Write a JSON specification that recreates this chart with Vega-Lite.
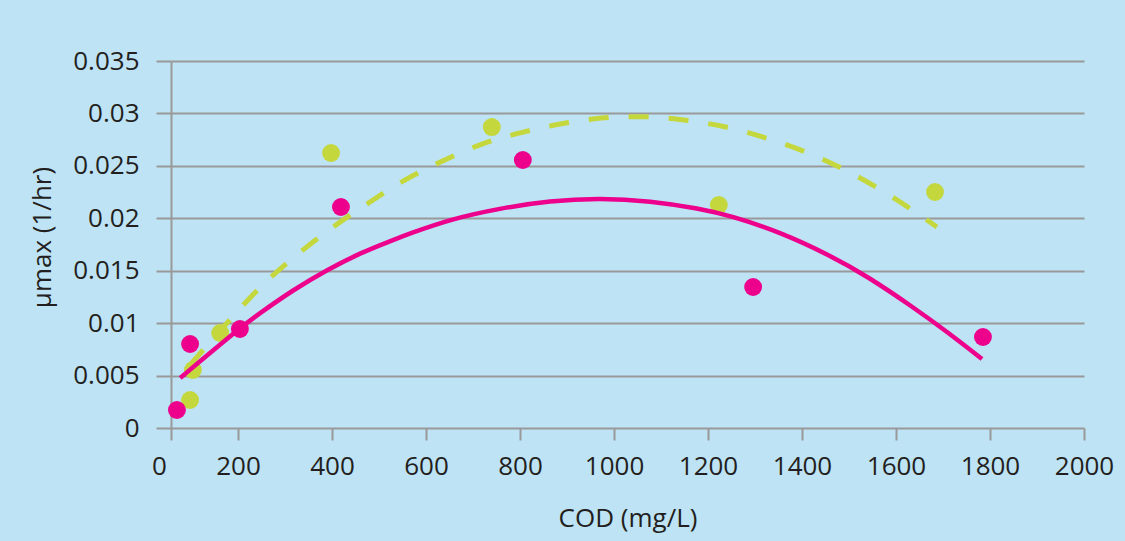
{
  "$schema": "https://vega.github.io/schema/vega-lite/v6.json",
  "width": 913,
  "height": 367,
  "autosize": {"type": "none"},
  "padding": {"left": 171, "top": 61, "right": 41, "bottom": 113},
  "background": "#bee3f5",
  "config": {
    "view": {"stroke": null},
    "font": "Open Sans",
    "axis": {
      "labelFont": "Open Sans",
      "titleFont": "Open Sans",
      "labelFontSize": 26,
      "titleFontSize": 26,
      "titleFontWeight": "normal",
      "labelColor": "#231f20",
      "titleColor": "#231f20",
      "domainColor": "#999999",
      "domainWidth": 2,
      "tickColor": "#999999",
      "tickWidth": 2,
      "gridColor": "#999999",
      "gridWidth": 2,
      "gridOpacity": 1,
      "labelFlush": false,
      "labelOverlap": false
    }
  },
  "datasets": {
    "points": [
      {"series": "magenta", "cod": 70, "mu": 0.00172},
      {"series": "magenta", "cod": 98, "mu": 0.00801},
      {"series": "magenta", "cod": 204, "mu": 0.00944},
      {"series": "magenta", "cod": 419, "mu": 0.02108},
      {"series": "magenta", "cod": 806, "mu": 0.02556},
      {"series": "magenta", "cod": 1296, "mu": 0.01345},
      {"series": "magenta", "cod": 1785, "mu": 0.00868},
      {"series": "green", "cod": 98, "mu": 0.00267},
      {"series": "green", "cod": 104, "mu": 0.00553},
      {"series": "green", "cod": 162, "mu": 0.00906},
      {"series": "green", "cod": 398, "mu": 0.02623},
      {"series": "green", "cod": 740, "mu": 0.0287},
      {"series": "green", "cod": 1223, "mu": 0.02127},
      {"series": "green", "cod": 1683, "mu": 0.02251}
    ],
    "trend": [
      {"series": "magenta", "cod": 77, "mu": 0.00477},
      {"series": "magenta", "cod": 204, "mu": 0.00954},
      {"series": "magenta", "cod": 247, "mu": 0.01097},
      {"series": "magenta", "cod": 317, "mu": 0.01316},
      {"series": "magenta", "cod": 389, "mu": 0.01507},
      {"series": "magenta", "cod": 460, "mu": 0.01669},
      {"series": "magenta", "cod": 530, "mu": 0.01793},
      {"series": "magenta", "cod": 566, "mu": 0.01855},
      {"series": "magenta", "cod": 651, "mu": 0.0199},
      {"series": "magenta", "cod": 757, "mu": 0.02095},
      {"series": "magenta", "cod": 864, "mu": 0.02168},
      {"series": "magenta", "cod": 970, "mu": 0.02193},
      {"series": "magenta", "cod": 1077, "mu": 0.02165},
      {"series": "magenta", "cod": 1183, "mu": 0.02092},
      {"series": "magenta", "cod": 1247, "mu": 0.02025},
      {"series": "magenta", "cod": 1353, "mu": 0.0187},
      {"series": "magenta", "cod": 1460, "mu": 0.01645},
      {"series": "magenta", "cod": 1538, "mu": 0.0145},
      {"series": "magenta", "cod": 1636, "mu": 0.01154},
      {"series": "magenta", "cod": 1709, "mu": 0.00916},
      {"series": "magenta", "cod": 1783, "mu": 0.00658},
      {"series": "green", "cod": 98, "mu": 0.00601},
      {"series": "green", "cod": 204, "mu": 0.01144},
      {"series": "green", "cod": 268, "mu": 0.0144},
      {"series": "green", "cod": 332, "mu": 0.01678},
      {"series": "green", "cod": 406, "mu": 0.01936},
      {"series": "green", "cod": 481, "mu": 0.02155},
      {"series": "green", "cod": 555, "mu": 0.02375},
      {"series": "green", "cod": 634, "mu": 0.02546},
      {"series": "green", "cod": 719, "mu": 0.02718},
      {"series": "green", "cod": 804, "mu": 0.02823},
      {"series": "green", "cod": 891, "mu": 0.02909},
      {"series": "green", "cod": 979, "mu": 0.02966},
      {"series": "green", "cod": 1070, "mu": 0.02975},
      {"series": "green", "cod": 1157, "mu": 0.02937},
      {"series": "green", "cod": 1247, "mu": 0.0287},
      {"series": "green", "cod": 1332, "mu": 0.02756},
      {"series": "green", "cod": 1417, "mu": 0.02623},
      {"series": "green", "cod": 1498, "mu": 0.02451},
      {"series": "green", "cod": 1577, "mu": 0.02251},
      {"series": "green", "cod": 1651, "mu": 0.02031},
      {"series": "green", "cod": 1687, "mu": 0.01917}
    ]
  },
  "encoding": {
    "x": {
      "field": "cod",
      "type": "quantitative",
      "scale": {"domain": [57.4, 2000], "nice": false, "zero": false},
      "axis": {
        "title": "COD (mg/L)",
        "values": [57.4, 200, 400, 600, 800, 1000, 1200, 1400, 1600, 1800, 2000],
        "labelExpr": "datum.value < 100 ? '0' : format(datum.value, 'd')",
        "labelOffset": {"condition": {"test": "datum.value < 100", "value": -12}, "value": 0},
        "grid": false,
        "domain": false,
        "tickSize": 12,
        "labelPadding": 13,
        "titleY": 90,
        "titleBaseline": "middle"
      }
    },
    "y": {
      "field": "mu",
      "type": "quantitative",
      "scale": {"domain": [0, 0.035], "nice": false, "zero": true},
      "axis": {
        "title": "μmax (1/hr)",
        "values": [0, 0.005, 0.01, 0.015, 0.02, 0.025, 0.03, 0.035],
        "format": "~g",
        "grid": true,
        "domain": true,
        "tickSize": 15,
        "labelPadding": 17,
        "titleX": -129,
        "titleY": 176,
        "titleAngle": 270,
        "titleAlign": "center",
        "titleBaseline": "middle"
      }
    }
  },
  "layer": [
    {
      "data": {"name": "trend"},
      "transform": [{"filter": "datum.series === 'green'"}],
      "mark": {"type": "line", "color": "#c4d83e", "strokeWidth": 5, "strokeDash": [20, 20], "interpolate": "basis"}
    },
    {
      "data": {"name": "points"},
      "transform": [{"filter": "datum.series === 'green'"}],
      "mark": {"type": "circle", "color": "#c4d83e", "size": 320, "opacity": 1}
    },
    {
      "data": {"name": "trend"},
      "transform": [{"filter": "datum.series === 'magenta'"}],
      "mark": {"type": "line", "color": "#ec008c", "strokeWidth": 4.5, "interpolate": "basis"}
    },
    {
      "data": {"name": "points"},
      "transform": [{"filter": "datum.series === 'magenta'"}],
      "mark": {"type": "circle", "color": "#ec008c", "size": 320, "opacity": 1}
    }
  ]
}
